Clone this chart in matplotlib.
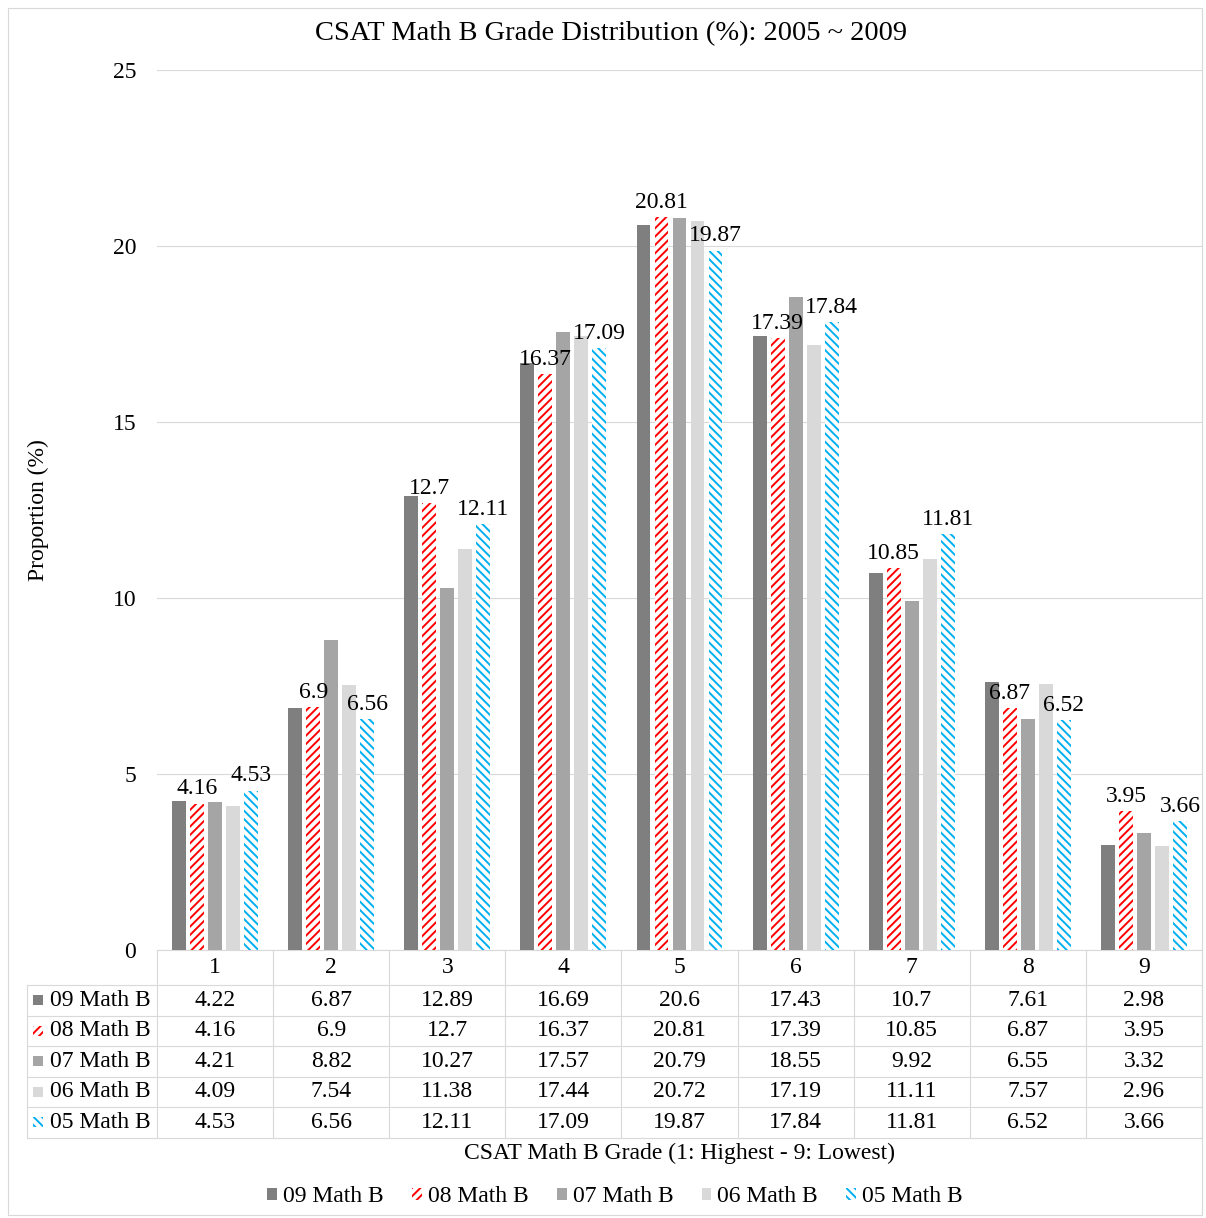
import numpy as np
import matplotlib
matplotlib.use("Agg")
import matplotlib.pyplot as plt
from matplotlib.patches import Patch, Rectangle

plt.rcParams['font.family'] = ['Liberation Serif', 'DejaVu Serif']
plt.rcParams['hatch.linewidth'] = 1.4

grades = ['1', '2', '3', '4', '5', '6', '7', '8', '9']
series = ['09 Math B', '08 Math B', '07 Math B', '06 Math B', '05 Math B']
v09 = [4.22, 6.87, 12.89, 16.69, 20.6, 17.43, 10.7, 7.61, 2.98]
v08 = [4.16, 6.9, 12.7, 16.37, 20.81, 17.39, 10.85, 6.87, 3.95]
v07 = [4.21, 8.82, 10.27, 17.57, 20.79, 18.55, 9.92, 6.55, 3.32]
v06 = [4.09, 7.54, 11.38, 17.44, 20.72, 17.19, 11.11, 7.57, 2.96]
v05 = [4.53, 6.56, 12.11, 17.09, 19.87, 17.84, 11.81, 6.52, 3.66]
values = [v09, v08, v07, v06, v05]
labelled = [False, True, False, False, True]

# (face, edge, hatch)
styles = [('#7f7f7f', '#7f7f7f', None),
          ('white', '#ff0000', '////'),
          ('#a5a5a5', '#a5a5a5', None),
          ('#d9d9d9', '#d9d9d9', None),
          ('white', '#00b0f0', '\\\\\\\\')]

FS = 17
W, H = 1206, 1218
fig = plt.figure(figsize=(W / 100, H / 100), dpi=100)

# overlay in pixel coordinates for table / frame
ov = fig.add_axes([0, 0, 1, 1], zorder=0)
ov.set_xlim(0, W)
ov.set_ylim(H, 0)
ov.set_axis_off()

L, R, T, B = 157, 1202, 70, 950
ax = fig.add_axes([L / W, 1 - B / H, (R - L) / W, (B - T) / H], zorder=1)
ax.patch.set_alpha(0)

n = len(grades)
x = np.arange(n)
bw = 0.12
step = 0.155
for k, (vals, st) in enumerate(zip(values, styles)):
    fc, ec, hatch = st
    bars = ax.bar(x + (k - 2) * step, vals, bw, color=fc, edgecolor=ec,
                  hatch=hatch, linewidth=0, zorder=3)
    if labelled[k]:
        for b, v in zip(bars, vals):
            ax.annotate('{:g}'.format(v), (b.get_x() + b.get_width() / 2, v),
                        xytext=(0, 3), textcoords='offset points',
                        ha='center', va='bottom', fontsize=FS, zorder=4)

ax.set_xlim(-0.5, n - 0.5)
ax.set_ylim(0, 25)
ax.set_yticks([0, 5, 10, 15, 20, 25])
ax.tick_params(axis='y', length=0, labelsize=FS, pad=15)
ax.set_xticks([])
ax.yaxis.grid(True, color='#d9d9d9', linewidth=0.8, zorder=0)
ax.set_axisbelow(True)
for s in ['top', 'right', 'left']:
    ax.spines[s].set_visible(False)
ax.spines['bottom'].set_color('#d9d9d9')
ax.set_ylabel('Proportion (%)', fontsize=FS, labelpad=46)

# data table
lc = '#d9d9d9'
cw = (R - L) / n
row_top = 985
rh = 30.5
tl = 27
rows_bottom = row_top + rh * len(series)
for i in range(n + 1):
    ov.plot([L + i * cw] * 2, [B, rows_bottom], color=lc, lw=0.8)
ov.plot([tl, tl], [row_top, rows_bottom], color=lc, lw=0.8)
for j in range(len(series) + 1):
    ov.plot([tl, R], [row_top + j * rh] * 2, color=lc, lw=0.8)
for i, g in enumerate(grades):
    ov.text(L + (i + 0.5) * cw, (B + row_top) / 2, g, ha='center', va='center', fontsize=FS)
for j, (name, vals, st) in enumerate(zip(series, values, styles)):
    cy = row_top + (j + 0.5) * rh
    fc, ec, hatch = st
    ov.add_patch(Rectangle((33, cy - 5), 10, 10, facecolor=fc, edgecolor=ec,
                           hatch=hatch, linewidth=0))
    ov.text(50, cy, name, ha='left', va='center', fontsize=FS)
    for i, v in enumerate(vals):
        ov.text(L + (i + 0.5) * cw, cy, '{:g}'.format(v), ha='center', va='center', fontsize=FS)

ov.text((L + R) / 2, 1153, 'CSAT Math B Grade (1: Highest - 9: Lowest)',
        ha='center', va='center', fontsize=FS)
ov.text(611, 34, 'CSAT Math B Grade Distribution (%): 2005 ~ 2009',
        ha='center', va='center', fontsize=20.5)
ov.add_patch(Rectangle((8, 8), W - 12, H - 11, fill=False, edgecolor=lc, lw=0.8))

handles = [Patch(facecolor=st[0], edgecolor=st[1], hatch=st[2], linewidth=0) for st in styles]
fig.legend(handles, series, loc='center', bbox_to_anchor=(615 / W, 1 - 1197 / H),
           ncol=5, frameon=False, fontsize=FS, handlelength=0.42, handleheight=0.42,
           handletextpad=0.25, columnspacing=1.2)

fig.savefig('out.png', dpi=100)
